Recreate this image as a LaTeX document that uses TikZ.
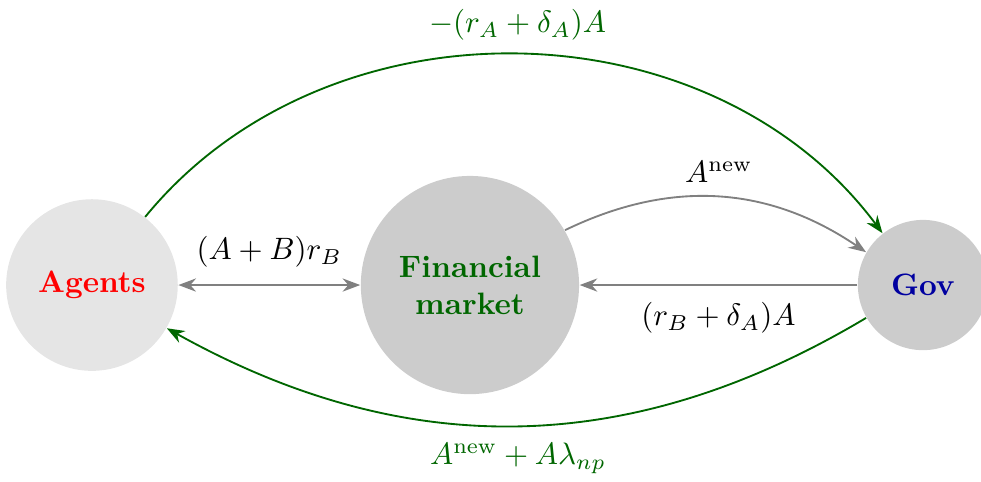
\documentclass[tikz,border=0pt]{standalone}
\usepackage{amsmath}
\usepackage{xcolor}
\usepackage{tikz}
\usetikzlibrary{arrows.meta}

\definecolor{flowgreen}{RGB}{0,102,0}
\definecolor{govblue}{RGB}{0,0,160}

\begin{document}
\begin{tikzpicture}[
          sector/.style={circle, fill=black!20, font=\bfseries, align=center},
          flow/.style={-{Stealth}, semithick, gray},
          gflow/.style={-{Stealth}, semithick, flowgreen},
          >={Stealth}
        ]
          \useasboundingbox (-1.045,-2.227) rectangle (10.102,3.239);
          \node[sector, fill=black!10, minimum size=1.95cm, text=red] (agents) at (0,0) {Agents};
          \node[sector, minimum size=2.48cm, text=flowgreen] (fin) at (4.295,0) {Financial\\market};
          \node[sector, minimum size=1.48cm, text=govblue] (gov) at (9.443,0) {Gov};

          \draw[flow, <->] (agents) -- node[above=2pt, text=black] {$(A+B)r_B$} (fin);
          \draw[flow] (fin) to[bend left=30] node[above=1pt, text=black] {$A^{\text{new}}$} (gov);
          \draw[flow] (gov) -- node[below=2pt, text=black] {$(r_B+\delta_A)A$} (fin);
          \draw[gflow] (agents) to[bend left=52] node[above=1pt] {$-(r_A+\delta_A)A$} (gov);
          \draw[gflow] (gov) to[bend left=30] node[below=2pt] {$A^{\text{new}}+A\lambda_{np}$} (agents);
        \end{tikzpicture}
\end{document}
